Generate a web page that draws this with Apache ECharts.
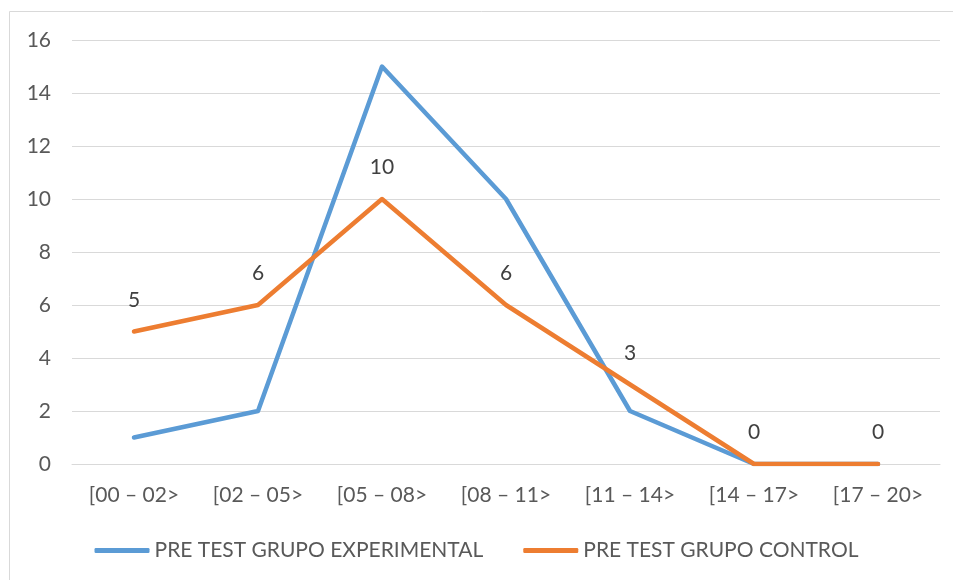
<!DOCTYPE html>
<html>
<head>
<meta charset="utf-8">
<script src="https://cdn.jsdelivr.net/npm/echarts@6/dist/echarts.min.js"></script>
<style>
  html, body { margin: 0; padding: 0; background: #fff; }
  #chart { width: 953px; height: 580px; }
</style>
</head>
<body>
<div id="chart"></div>
<script>
var categories = ['[00 – 02>', '[02 – 05>', '[05 – 08>', '[08 – 11>', '[11 – 14>', '[14 – 17>', '[17 – 20>'];
var experimental = [1, 2, 15, 10, 2, 0, 0];
var control = [5, 6, 10, 6, 3, 0, 0];
var seriesNames = ['PRE TEST GRUPO EXPERIMENTAL', 'PRE TEST GRUPO CONTROL'];

var font = 'Lato, Open Sans, sans-serif';
var chart = echarts.init(document.getElementById('chart'));
chart.setOption({
    animation: false,
    graphic: [{
        type: 'rect',
        shape: { x: 9.5, y: 11.5, width: 960, height: 600 },
        style: { fill: 'none', stroke: '#d9d9d9', lineWidth: 1 }
    }],
    grid: { left: 72, right: 13, top: 40, bottom: 116 },
    legend: {
        top: 535,
        left: 'center',
        itemWidth: 55,
        itemHeight: 5,
        itemGap: 40,
        icon: 'roundRect',
        textStyle: { color: '#595959', fontSize: 21, fontFamily: font },
        data: seriesNames
    },
    xAxis: {
        type: 'category',
        data: categories,
        boundaryGap: true,
        axisLine: { lineStyle: { color: '#d9d9d9', width: 1 } },
        axisTick: { show: false },
        axisLabel: { color: '#595959', fontSize: 21, fontFamily: font, margin: 21 }
    },
    yAxis: {
        type: 'value',
        min: 0,
        max: 16,
        interval: 2,
        axisLine: { show: false },
        axisTick: { show: false },
        splitLine: { lineStyle: { color: '#d9d9d9', width: 1 } },
        axisLabel: { color: '#595959', fontSize: 21, fontFamily: font, margin: 21 }
    },
    series: [
        {
            name: seriesNames[0],
            type: 'line',
            data: experimental,
            symbol: 'none',
            lineStyle: { color: '#5B9BD5', width: 4.5, cap: 'round', join: 'round' },
            itemStyle: { color: '#5B9BD5' }
        },
        {
            name: seriesNames[1],
            type: 'line',
            data: control,
            symbol: 'circle',
            symbolSize: 2,
            lineStyle: { color: '#ED7D31', width: 4.5, cap: 'round', join: 'round' },
            itemStyle: { color: '#ED7D31' },
            label: {
                show: true,
                position: 'top',
                distance: 20,
                color: '#404040',
                fontSize: 21,
                fontFamily: font
            }
        }
    ]
});
</script>
</body>
</html>
